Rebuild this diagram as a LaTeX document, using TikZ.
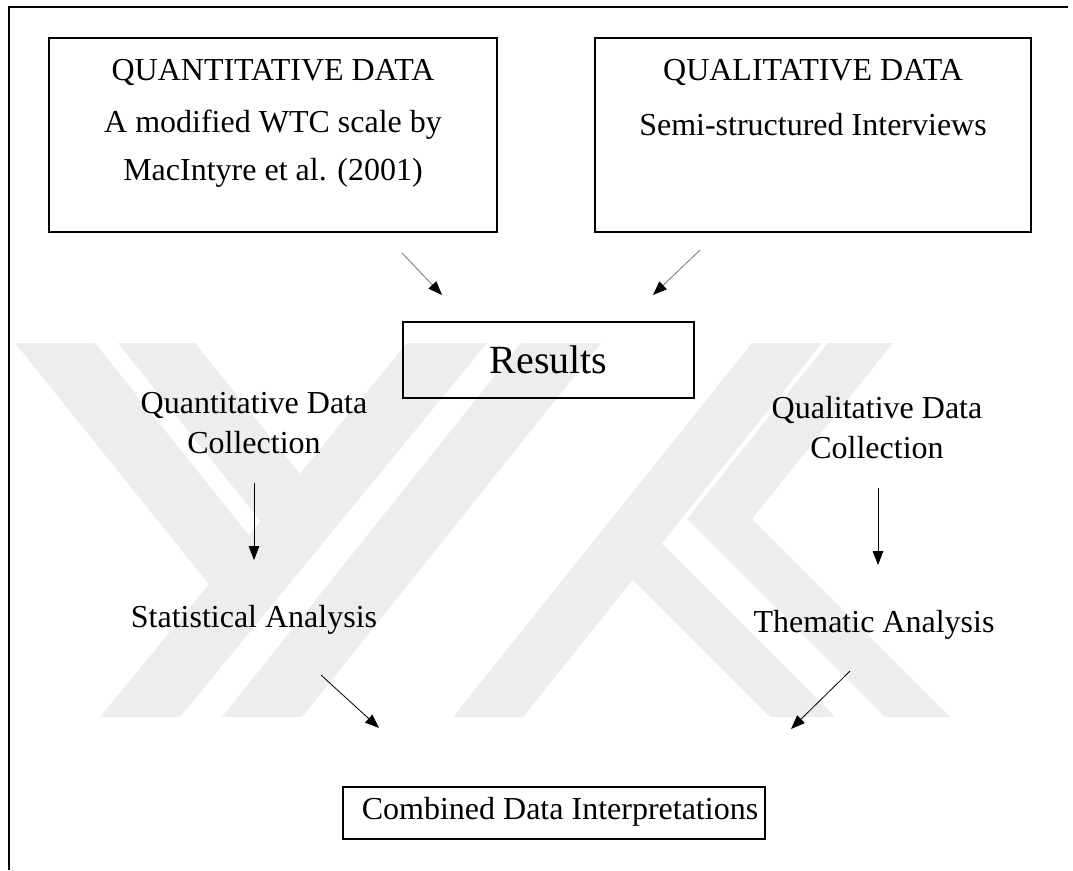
\documentclass[tikz,border=0pt]{standalone}
\usepackage{fontspec}
\setmainfont{Liberation Serif}
\usetikzlibrary{arrows.meta}
\definecolor{wm}{HTML}{EDEDED}
\begin{document}
\begin{tikzpicture}[x=0.75pt,y=-0.75pt,
  txt/.style={font=\fontsize{24}{28}\selectfont, inner sep=0pt},
  boxa/.style={draw, line width=1.2pt, inner sep=0pt},
  arr/.style={-{Triangle[length=10.5pt,width=8pt,color=black]}, line width=0.6pt},
  band/.style={fill=wm, draw=none},
]
\useasboundingbox (0,0) rectangle (1073,870);
% watermark (light grey bands)
\begin{scope}
\clip (10,343) rectangle (1060,717);
% left: two arms joining a long stroke
\fill[band] (15,343) -- (95,343) -- (249,535.5) -- (209.4,584.8) -- cycle;
\fill[band] (118,343) -- (195,343) -- (299.6,473.8) -- (260.6,521.3) -- cycle;
\fill[band] (100,717) -- (180,717) -- (487,343) -- (407,343) -- cycle;
\fill[band] (222,717) -- (302,717) -- (601,343) -- (521,343) -- cycle;
% right: stroke with leg, and an angle
\fill[band] (453,717) -- (523,717) -- (822,343) -- (752,343) -- cycle;
\fill[band] (661.7,543.7) -- (835,717) -- (770,717) -- (632.8,579.8) -- cycle;
\fill[band] (828,343) -- (893,343) -- (752,519) -- (950,717) -- (885,717) -- (687,519) -- cycle;
\end{scope}
% outer frame
\draw[line width=2pt] (9,870) -- (9,7) -- (1068,7);
% boxes
\node[boxa, minimum width=336pt, minimum height=145.5pt] (qbox) at (273,135) {};
\node[boxa, minimum width=327pt, minimum height=145.5pt] (lbox) at (813,135) {};
\node[boxa, minimum width=218pt, minimum height=57pt, font=\fontsize{30}{34}\selectfont] (res) at (548.5,360) {Results};
\node[boxa, minimum width=316.5pt, minimum height=39pt] (comb) at (554,813) {};
% texts
\node[txt] (qt1) at (273,73) {QUANTITATIVE DATA};
\node[txt] (qt2) at (273,125) {A modified WTC scale by};
\node[txt] (qt3) at (273,173) {MacIntyre et al. (2001)};
\node[txt] (lt1) at (813,73) {QUALITATIVE DATA};
\node[txt] (lt2) at (813,125) {Semi-structured Interviews};
\node[txt, align=center] (qc) at (254,423) {Quantitative Data\\[2pt]Collection};
\node[txt, align=center] (lc) at (877,428) {Qualitative Data\\[2pt]Collection};
\node[txt] (sa) at (254,620) {Statistical Analysis};
\node[txt] (ta) at (874,625) {Thematic Analysis};
\node[txt] (ct) at (560,812) {Combined Data Interpretations};
% connector end points
\coordinate (a1s) at (402,253); \coordinate (a1e) at (442,295);
\coordinate (a2s) at (700,250); \coordinate (a2e) at (653,295);
\coordinate (a3s) at (254,483); \coordinate (a3e) at (254,560);
\coordinate (a4s) at (878,488); \coordinate (a4e) at (878,565);
\coordinate (a5s) at (321,675); \coordinate (a5e) at (379,728);
\coordinate (a6s) at (850,671); \coordinate (a6e) at (791,729);
\draw[arr, draw=black!55] (a1s) -- (a1e);
\draw[arr, draw=black!55] (a2s) -- (a2e);
\draw[arr] (a3s) -- (a3e);
\draw[arr] (a4s) -- (a4e);
\draw[arr] (a5s) -- (a5e);
\draw[arr] (a6s) -- (a6e);
\end{tikzpicture}
\end{document}
